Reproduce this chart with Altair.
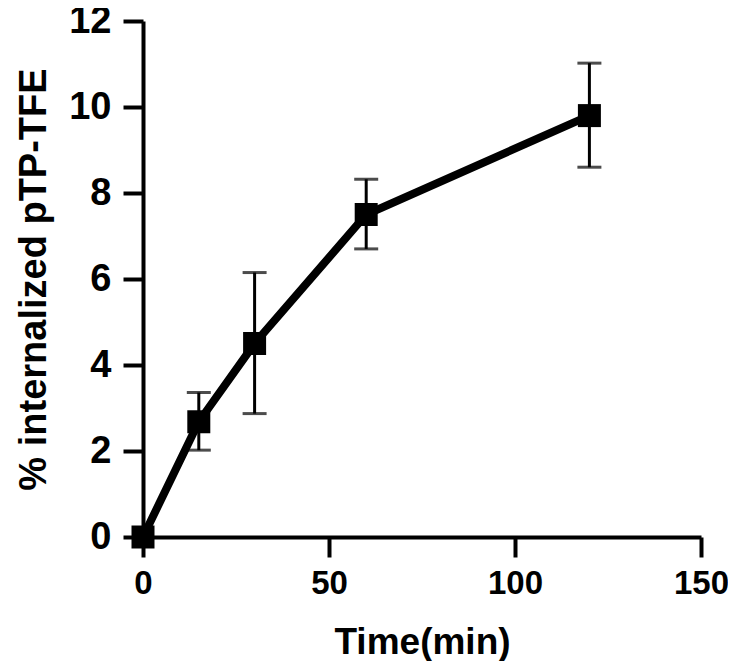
import altair as alt
import pandas as pd

time = [0, 15, 30, 60, 120]
mean = [0.0, 2.68, 4.5, 7.5, 9.8]
lower = [0.0, 2.02, 2.87, 6.7, 8.6]
upper = [0.0, 3.36, 6.15, 8.32, 11.02]

df = pd.DataFrame({"time": time, "mean": mean, "lower": lower, "upper": upper})
df_err = df[df["time"] > 0]

FONT = "Liberation Sans"

x = alt.X("time:Q", scale=alt.Scale(domain=[0, 150], nice=False),
          axis=alt.Axis(values=[0, 50, 100, 150], title="Time(min)"))
y = alt.Y("mean:Q", scale=alt.Scale(domain=[0, 12], nice=False),
          axis=alt.Axis(values=[0, 2, 4, 6, 8, 10, 12], title="% internalized pTP-TFE"))

base = alt.Chart(df)

line = base.mark_line(color="black", strokeWidth=8, clip=False).encode(x=x, y=y)
pts = base.mark_square(color="black", size=529, opacity=1, clip=False).encode(x=x, y=y)

err = alt.Chart(df_err).mark_rule(color="black", strokeWidth=3).encode(
    x="time:Q", y="lower:Q", y2="upper:Q")
cap_lo = alt.Chart(df_err).mark_tick(color="black", thickness=3, size=24, orient="horizontal").encode(
    x="time:Q", y="lower:Q")
cap_hi = alt.Chart(df_err).mark_tick(color="black", thickness=3, size=24, orient="horizontal").encode(
    x="time:Q", y="upper:Q")

chart = alt.layer(err, cap_lo, cap_hi, line, pts).properties(
    width=558, height=516,
    autosize=alt.AutoSizeParams(type="none"),
    padding={"left": 135, "top": 13, "right": 27, "bottom": 124},
).configure_view(stroke=None).configure_axis(
    domainColor="black", domainWidth=4, tickColor="black", tickWidth=4, tickSize=20,
    labelFont=FONT, labelFontWeight="bold", labelColor="black", labelFlush=False,
    titleFont=FONT, titleFontWeight="bold", titleColor="black",
    grid=False,
).configure_axisX(labelPadding=10, titlePadding=24, labelFontSize=33, titleFontSize=37
).configure_axisY(labelPadding=12, titlePadding=15, labelFontSize=38, titleFontSize=38)

chart.save("out.html", embed_options={"renderer": "svg", "actions": False})
